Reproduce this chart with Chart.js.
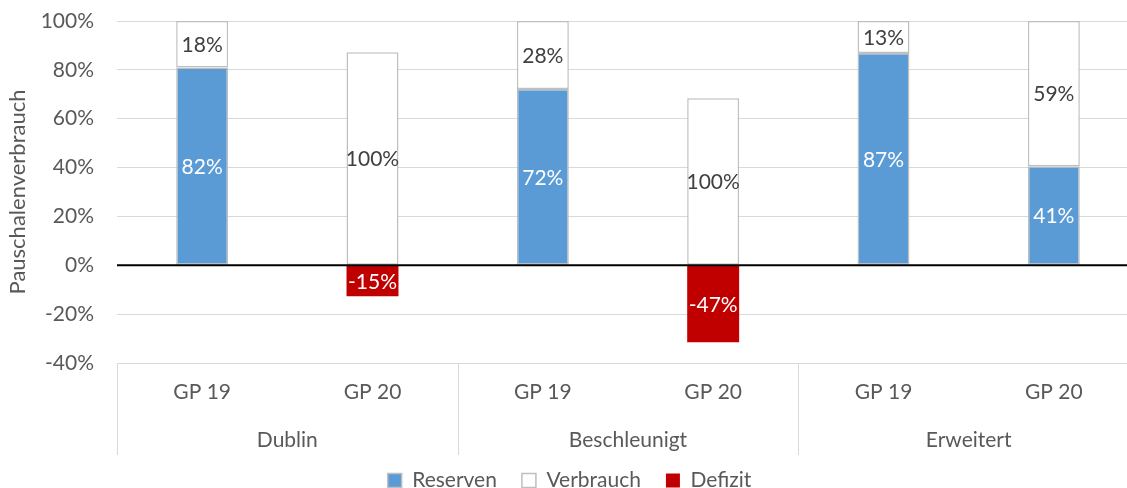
<!DOCTYPE html>
<html>
<head>
<meta charset="utf-8">
<script src="https://cdn.jsdelivr.net/npm/chart.js"></script>
<style>
  html, body { margin: 0; padding: 0; background: #fff; overflow: hidden; }
  #wrap { width: 1139px; height: 488px; position: relative; }
</style>
</head>
<body>
<div id="wrap"><canvas id="chart"></canvas></div>
<script>
// categories
const periods = ['GP 19', 'GP 20', 'GP 19', 'GP 20', 'GP 19', 'GP 20'];
const groups = ['Dublin', 'Beschleunigt', 'Erweitert'];

// bar heights (percent)
const reserven = [81, 0, 72.2, 0, 86.9, 40.5];
const verbrauch = [19, 87.2, 27.8, 68.4, 13.1, 59.5];
const defizit = [0, -12.7, 0, -31.5, 0, 0];

// labels as printed in the bars
const reservenLabels = ['82%', '', '72%', '', '87%', '41%'];
const verbrauchLabels = ['18%', '100%', '28%', '100%', '13%', '59%'];
const defizitLabels = ['', '-15%', '', '-47%', '', ''];

const yTicks = [-40, -20, 0, 20, 40, 60, 80, 100];

const FONT = 'Lato, "Open Sans", sans-serif';
const grey = '#595959';

// text inside the bars
const barLabels = {
    id: 'barLabels',
    afterDatasetsDraw(chart) {
        const ctx = chart.ctx;
        ctx.save();
        ctx.font = '21px ' + FONT;
        ctx.textAlign = 'center';
        ctx.textBaseline = 'middle';
        chart.data.datasets.forEach((ds, i) => {
            const meta = chart.getDatasetMeta(i);
            meta.data.forEach((bar, j) => {
                const txt = ds.valueLabels[j];
                if (!txt) return;
                ctx.fillStyle = ds.labelColor;
                ctx.fillText(txt, bar.x, (bar.y + bar.base) / 2 + 1);
            });
        });
        // zero line on top of the bars
        const y0 = chart.scales.y.getPixelForValue(0);
        ctx.strokeStyle = '#000';
        ctx.lineWidth = 2;
        ctx.beginPath();
        ctx.moveTo(chart.chartArea.left, y0);
        ctx.lineTo(chart.chartArea.right, y0);
        ctx.stroke();
        ctx.restore();
    }
};

// second level of the category axis
const groupAxis = {
    id: 'groupAxis',
    afterDraw(chart) {
        const ctx = chart.ctx;
        const x = chart.scales.x;
        const bottom = chart.chartArea.bottom;
        const step = x.getPixelForValue(1) - x.getPixelForValue(0);
        ctx.save();
        ctx.strokeStyle = '#d9d9d9';
        ctx.lineWidth = 1;
        for (let g = 0; g < groups.length; g++) {
            const left = x.getPixelForValue(g * 2) - step / 2;
            ctx.beginPath();
            ctx.moveTo(Math.round(left) + 0.5, bottom);
            ctx.lineTo(Math.round(left) + 0.5, bottom + 92);
            ctx.stroke();
            const mid = (x.getPixelForValue(g * 2) + x.getPixelForValue(g * 2 + 1)) / 2;
            ctx.fillStyle = grey;
            ctx.font = '21px ' + FONT;
            ctx.textAlign = 'center';
            ctx.textBaseline = 'middle';
            ctx.fillText(groups[g], mid, bottom + 77);
        }
        ctx.restore();
    }
};

const ctx = document.getElementById('chart').getContext('2d');
new Chart(ctx, {
    type: 'bar',
    data: {
        labels: periods,
        datasets: [
            {
                label: 'Reserven',
                data: reserven,
                valueLabels: reservenLabels,
                labelColor: '#ffffff',
                backgroundColor: '#5b9bd5',
                borderColor: '#bfbfbf',
                borderWidth: 1.5,
                borderSkipped: false
            },
            {
                label: 'Verbrauch',
                data: verbrauch,
                valueLabels: verbrauchLabels,
                labelColor: '#404040',
                backgroundColor: '#ffffff',
                borderColor: '#bfbfbf',
                borderWidth: 1.5,
                borderSkipped: false
            },
            {
                label: 'Defizit',
                data: defizit,
                valueLabels: defizitLabels,
                labelColor: '#ffffff',
                backgroundColor: '#c00000',
                borderColor: '#c00000',
                borderWidth: 0
            }
        ]
    },
    options: {
        responsive: true,
        maintainAspectRatio: false,
        animation: false,
        datasets: {
            bar: { categoryPercentage: 1, barPercentage: 0.305 }
        },
        layout: { padding: { top: 21, left: 0, right: 0, bottom: -13 } },
        plugins: {
            tooltip: { enabled: false },
            legend: {
                position: 'bottom',
                labels: {
                    font: { family: FONT, size: 21, lineHeight: 1 },
                    color: grey,
                    boxWidth: 14,
                    boxHeight: 14,
                    padding: 25
                }
            }
        },
        scales: {
            x: {
                stacked: true,
                grid: { display: false },
                border: { display: false },
                ticks: {
                    font: { family: FONT, size: 21 },
                    color: grey,
                    padding: 9
                },
                afterFit(scale) { scale.height = 82; }
            },
            y: {
                stacked: true,
                min: -40,
                max: 100,
                afterBuildTicks(scale) { scale.ticks = yTicks.map(v => ({ value: v })); },
                grid: { color: '#d9d9d9', lineWidth: 1, drawTicks: true, tickLength: 20, tickColor: 'rgba(0,0,0,0)' },
                border: { display: false },
                ticks: {
                    font: { family: FONT, size: 21 },
                    color: grey,
                    padding: 3,
                    callback: v => v + '%'
                },
                title: {
                    display: true,
                    text: 'Pauschalenverbrauch',
                    font: { family: FONT, size: 22 },
                    color: grey,
                    padding: { top: 5, bottom: 8 }
                },
                afterFit(scale) { scale.width = 117; }
            }
        }
    },
    plugins: [barLabels, groupAxis]
});
</script>
</body>
</html>
